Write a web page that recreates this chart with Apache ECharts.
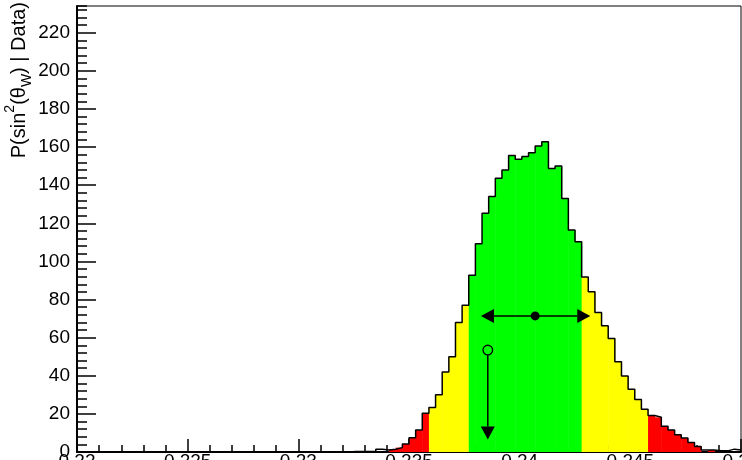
<!DOCTYPE html>
<html><head><meta charset="utf-8">
<script src="https://cdn.jsdelivr.net/npm/echarts@6/dist/echarts.min.js"></script>
<style>html,body{margin:0;padding:0;background:#fff}#c{width:742px;height:460px}</style>
</head><body><div id="c"></div>
<script>
// ---- data ----
const xMin = 0.22, xMax = 0.25, nBins = 100;
const xTickValues = [0.22, 0.225, 0.23, 0.235, 0.24, 0.245, 0.25];
const yTickValues = [0, 20, 40, 60, 80, 100, 120, 140, 160, 180, 200, 220];
const counts = [
  0,0,0,0,0,0,0,0,0,0,
  0,0,0,0,0,0,0,0,0,0,
  0,0,0,0,0,0,0,0,0,0,
  0,0,0,0,0,0,0,0,0,0,
  0,0.3,0.3,0.3,0.3,1.4,1.0,1.4,2.3,4.2,
  7.5,11.5,20.3,23.4,30,42,50,68,77,92.7,
  109.3,125.2,134,143.6,148,155.5,153.6,155,157,160.5,
  162.8,148.8,150,133,116.5,110.3,91.8,84.1,73.2,66.2,
  59.6,47.4,39.9,32.9,27.6,22.4,19.1,18.2,13.5,11.5,
  9,7.3,5,2.9,1.0,1.0,0.6,0.6,1.5,1.0
];
// band of each bin range: [firstBin, lastBin, band]
const bandRanges = [
  [0,46,'none'],[47,52,'red'],[53,58,'yellow'],[59,75,'green'],
  [76,85,'yellow'],[86,93,'red'],[94,94,'none'],[95,95,'red'],[96,99,'none']
];
const meanPoint = [0.2407, 71.4];
const hArrowX = [0.23825, 0.24319];
const obsPoint = [0.23856, 53.5];
const obsArrowTip = 6.6;

// ---- styles ----
const bandColor = {none:'rgba(0,0,0,0)', red:'#ff0000', yellow:'#ffff00', green:'#00ff00'};
const FONT = '"Liberation Sans", Arial, sans-serif';
const FS = 19;

const binW = (xMax - xMin) / nBins;
const bandOf = [];
bandRanges.forEach(r => { for (let i = r[0]; i <= r[1]; i++) bandOf[i] = r[2]; });
const fillData = counts.map((v, i) => [xMin + i * binW, xMin + (i + 1) * binW, v, i]);
const outline = counts.map((v, i) => [xMin + i * binW, v]);
outline.push([xMax, counts[nBins - 1]]);

const chart = echarts.init(document.getElementById('c'));
function fmtX(v){ const r = Math.round(v*1000)/1000; return xTickValues.some(t=>Math.abs(t-r)<1e-9) ? String(parseFloat(r.toFixed(3))) : ''; }

chart.setOption({
  animation: false,
  backgroundColor: '#fff',
  textStyle: {fontFamily: FONT, fontSize: FS},
  grid: {left: 77, right: 1, top: 6, bottom: 8, show: true, borderColor: '#000', borderWidth: 1, containLabel: false, outerBoundsMode: 'none'},
  xAxis: {
    type: 'value', min: xMin, max: xMax, interval: 0.005,
    axisLine: {onZero: false, lineStyle: {color: '#000', width: 2}},
    axisTick: {inside: true, length: 13, lineStyle: {color: '#000', width: 1.5}},
    minorTick: {show: true, splitNumber: 5, length: 7, lineStyle: {color: '#000', width: 1.5}},
    splitLine: {show: false}, minorSplitLine: {show: false},
    axisLabel: {formatter: fmtX, fontSize: FS, color: '#000', fontFamily: FONT, margin: 0, showMinLabel: true, showMaxLabel: true, hideOverlap: false}
  },
  yAxis: [{
    type: 'value', min: 0, max: 234, interval: 20,
    axisLine: {show: true, lineStyle: {color: '#000', width: 2}},
    axisTick: {inside: true, length: 19, lineStyle: {color: '#000', width: 1.5}},
    splitLine: {show: false},
    axisLabel: {formatter: v => yTickValues.includes(v) ? String(v) : '', fontSize: FS, color: '#000', fontFamily: FONT, margin: 7, showMaxLabel: false}
  }, {
    type: 'value', min: 0, max: 234, interval: 4, position: 'left',
    axisLine: {show: false},
    axisTick: {show: true, inside: true, length: 10, lineStyle: {color: '#000', width: 1.5}},
    axisLabel: {show: false}, splitLine: {show: false}
  }],
  graphic: [{
    type: 'text', x: 19, y: 2, rotation: Math.PI / 2,
    style: {
      text: '{n|P(sin}{sup|2}{n|(θ}{sub|W}{n|) | Data)}',
      align: 'right', verticalAlign: 'middle', fill: '#000', fontSize: 20, fontFamily: FONT,
      rich: {
        n: {fontSize: 20, lineHeight: 31, fontFamily: FONT, fill: '#000'},
        sup: {fontSize: 14, lineHeight: 12, verticalAlign: 'top', fontFamily: FONT, fill: '#000'},
        sub: {fontSize: 14, lineHeight: 18, verticalAlign: 'bottom', fontFamily: FONT, fill: '#000'}
      }
    }
  }],
  series: [{
    type: 'custom', z: 1,
    data: fillData,
    renderItem: (params, api) => {
      const i = api.value(3);
      const p0 = api.coord([api.value(0), api.value(2)]);
      const p1 = api.coord([api.value(1), 0]);
      return {type: 'rect', shape: {x: p0[0], y: p0[1], width: p1[0] - p0[0] + 0.5, height: p1[1] - p0[1]},
        style: {fill: bandColor[bandOf[i]]}};
    }
  }, {
    type: 'line', z: 3, step: 'end', symbol: 'none', data: outline,
    lineStyle: {color: '#000', width: 1.5}
  }, {
    type: 'custom', z: 5,
    data: [[meanPoint[0], meanPoint[1], hArrowX[0], hArrowX[1], obsPoint[0], obsPoint[1], obsArrowTip]],
    renderItem: (params, api) => {
      const m = api.coord([api.value(0), api.value(1)]);
      const l = api.coord([api.value(2), api.value(1)]);
      const r = api.coord([api.value(3), api.value(1)]);
      const o = api.coord([api.value(4), api.value(5)]);
      const t = api.coord([api.value(4), api.value(6)]);
      const L = 13, H = 7, R = 4.5;
      return {type: 'group', children: [
        {type: 'line', shape: {x1: l[0] + L, y1: l[1], x2: r[0] - L, y2: r[1]}, style: {stroke: '#000', lineWidth: 1.5}},
        {type: 'polygon', shape: {points: [[l[0], l[1]], [l[0] + L, l[1] - H], [l[0] + L, l[1] + H]]}, style: {fill: '#000'}},
        {type: 'polygon', shape: {points: [[r[0], r[1]], [r[0] - L, r[1] - H], [r[0] - L, r[1] + H]]}, style: {fill: '#000'}},
        {type: 'circle', shape: {cx: m[0], cy: m[1], r: R}, style: {fill: '#000'}},
        {type: 'line', shape: {x1: o[0], y1: o[1] + R + 0.5, x2: t[0], y2: t[1] - L}, style: {stroke: '#000', lineWidth: 1.5}},
        {type: 'polygon', shape: {points: [[t[0], t[1]], [t[0] - H, t[1] - L], [t[0] + H, t[1] - L]]}, style: {fill: '#000'}},
        {type: 'circle', shape: {cx: o[0], cy: o[1], r: R + 0.3}, style: {fill: 'none', stroke: '#000', lineWidth: 1.3}}
      ]};
    }
  }]
});
</script>
</body></html>
